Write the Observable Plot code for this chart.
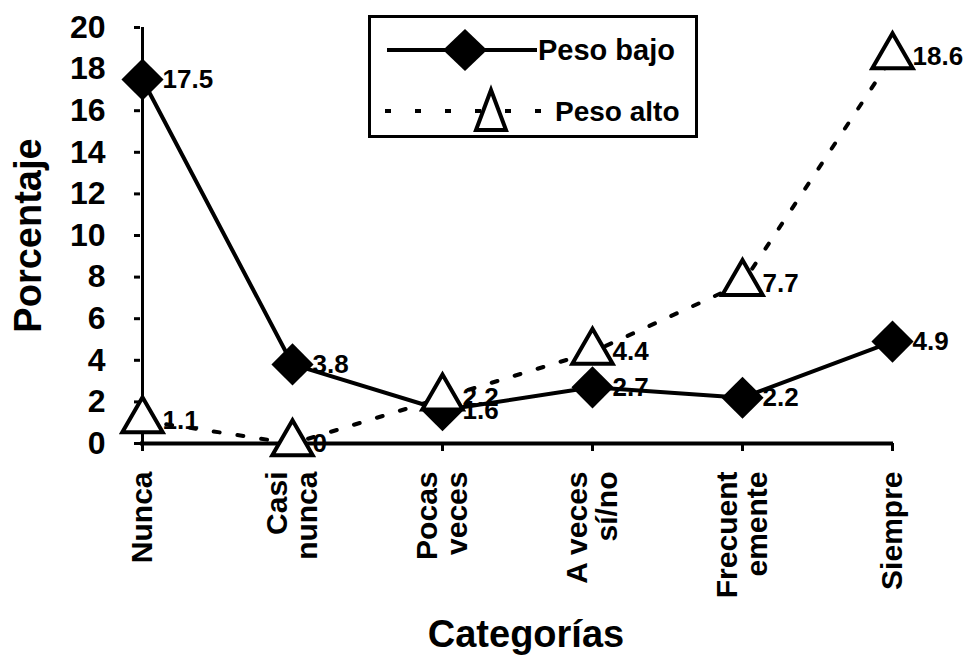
<!DOCTYPE html>
<html>
<head>
<meta charset="utf-8">
<script src="https://cdn.jsdelivr.net/npm/d3@7"></script>
<script src="https://cdn.jsdelivr.net/npm/@observablehq/plot@0.6"></script>
<style>
  html, body { margin: 0; padding: 0; background: white; }
  #wrap { position: relative; width: 974px; height: 662px; }
  #legend { position: absolute; left: 368px; top: 15px; width: 324px; height: 117px;
            border: 3px solid black; background: white; }
  #legend svg { display: block; }
</style>
</head>
<body>
<div id="wrap">
  <div id="chart"></div>
  <div id="legend"></div>
</div>
<script>
const categorias = ["Nunca", "Casi\nnunca", "Pocas\nveces", "A veces\nsí/no", "Frecuent\nemente", "Siempre"];
const pesoBajo = [17.5, 3.8, 1.6, 2.7, 2.2, 4.9];
const pesoAlto = [1.1, 0, 2.2, 4.4, 7.7, 18.6];
const yTicks = [0, 2, 4, 6, 8, 10, 12, 14, 16, 18, 20];
const seriesNames = ["Peso bajo", "Peso alto"];

const bajo = categorias.map((c, i) => ({cat: c, v: pesoBajo[i]}));
const alto = categorias.map((c, i) => ({cat: c, v: pesoAlto[i]}));
const FONT = "'Liberation Sans', Arial, Helvetica, sans-serif";

const chart = Plot.plot({
  width: 974,
  height: 662,
  marginLeft: 140,
  marginRight: 81,
  marginTop: 27,
  marginBottom: 219,
  style: {fontFamily: FONT, fontWeight: "bold", color: "black", background: "white", overflow: "visible"},
  x: {type: "point", domain: categorias, padding: 0},
  y: {domain: [0, 20]},
  marks: [
    Plot.ruleY([0], {stroke: "black", strokeWidth: 4}),
    Plot.ruleX([categorias[0]], {stroke: "black", strokeWidth: 3}),
    Plot.axisX({tickRotate: -90, fontSize: 30, tickSize: 8, tickPadding: 20, label: null, strokeWidth: 3}),
    Plot.axisY({ticks: yTicks, fontSize: 32, tickSize: 6, tickPadding: 29, label: null, strokeWidth: 3}),
    Plot.text(bajo, {x: "cat", y: "v", text: d => String(d.v), dx: 20, textAnchor: "start", fontSize: 26, fill: "black"}),
    Plot.text(alto, {x: "cat", y: "v", text: d => String(d.v), dx: 20, textAnchor: "start", fontSize: 26, fill: "black"}),
    Plot.line(bajo, {x: "cat", y: "v", stroke: "black", strokeWidth: 4}),
    Plot.dot(bajo, {x: "cat", y: "v", symbol: "diamond2", r: 19, fill: "black", stroke: "none"}),
    Plot.line(alto, {x: "cat", y: "v", stroke: "black", strokeWidth: 4, strokeDasharray: "6,18"}),
    Plot.dot(alto, {x: "cat", y: "v", symbol: "triangle", r: 15, fill: "white", stroke: "black", strokeWidth: 4}),
    Plot.text(["Porcentaje"], {text: d => d, frameAnchor: "left", textAnchor: "middle", dx: -112, rotate: -90, fontSize: 38, fill: "black"}),
    Plot.text(["Categorías"], {text: d => d, frameAnchor: "bottom", textAnchor: "middle", dx: 9, dy: 203, fontSize: 38, fill: "black"})
  ]
});
document.getElementById("chart").appendChild(chart);

// Legend (inside plot area, as in the original)
const lg = d3.select("#legend").append("svg").attr("width", 324).attr("height", 117)
  .style("font-family", FONT).style("font-weight", "bold");
// row 1: Peso bajo
lg.append("line").attr("x1", 16).attr("x2", 166).attr("y1", 32).attr("y2", 32)
  .attr("stroke", "black").attr("stroke-width", 4);
lg.append("path").attr("d", "M94,11 L116,32 L94,53 L72,32 Z").attr("fill", "black");
lg.append("text").attr("x", 167).attr("y", 32).attr("dy", "0.35em")
  .attr("font-size", 29).text(seriesNames[0]);
// row 2: Peso alto
lg.append("line").attr("x1", 14).attr("x2", 180).attr("y1", 93).attr("y2", 93)
  .attr("stroke", "black").attr("stroke-width", 4).attr("stroke-dasharray", "6,24");
lg.append("path").attr("d", "M120,72 L135,112 L105,112 Z").attr("fill", "white")
  .attr("stroke", "black").attr("stroke-width", 4).attr("stroke-linejoin", "miter");
lg.append("text").attr("x", 184).attr("y", 93).attr("dy", "0.35em")
  .attr("font-size", 28).text(seriesNames[1]);
</script>
</body>
</html>
